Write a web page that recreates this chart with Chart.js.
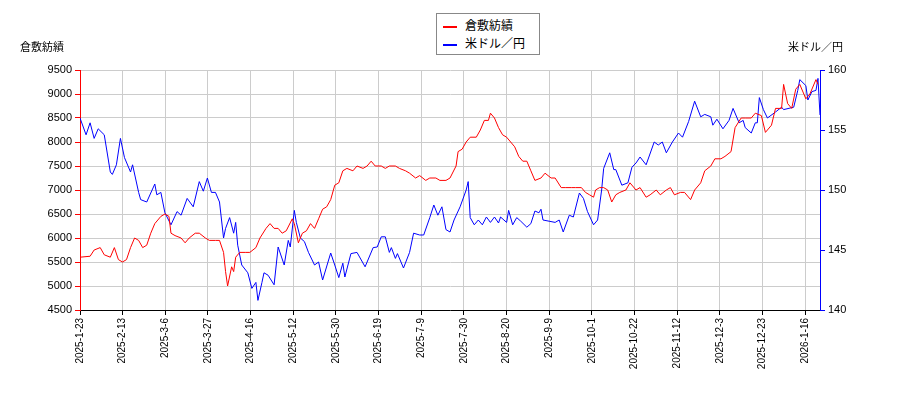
<!DOCTYPE html>
<html>
<head>
<meta charset="utf-8">
<script src="https://cdn.jsdelivr.net/npm/chart.js@4/dist/chart.umd.min.js"></script>
<style>
  body { margin: 0; background: #fff; font-family: "Noto Sans CJK JP", sans-serif; }
  #wrap { position: relative; width: 900px; height: 400px; }
  .lbl { position: absolute; font-size: 11px; color: #000; }
  #legend { position: absolute; left: 436px; top: 13px; width: 104px; border: 1px solid #888; background: #fff; font-size: 12px; padding: 2px 0 2px 6px; box-sizing: border-box; }
  #legend div { height: 18px; line-height: 18px; }
  #legend span { display: inline-block; width: 14px; height: 2px; vertical-align: middle; margin-right: 8px; }
</style>
</head>
<body>
<div id="wrap">
  <canvas id="c" width="900" height="400"></canvas>
  <div class="lbl" style="left:20px;top:38px">倉敷紡績</div>
  <div class="lbl" style="left:788px;top:38px">米ドル／円</div>
  <div id="legend">
    <div><span style="background:#f00"></span>倉敷紡績</div>
    <div><span style="background:#00f"></span>米ドル／円</div>
  </div>
</div>
<script>
// x position in trading-time units (0 = 2025-1-23)
const redDays = [0,5,7,10,12,15,17,19,21,23,25,27,29,31,33,35,37,40,42,44,45,47,50,52,54,57,59,62,64,67,69,71,72,73,75,76,77,79,82,84,87,89,92,94,96,98,100,102,105,106,108,110,112,114,116,118,120,122,124,126,128,130,132,135,137,140,142,144,146,149,151,153,156,158,161,163,166,168,171,173,176,178,181,183,186,187,189,191,193,196,198,200,202,203,205,207,209,211,213,215,217,219,221,223,225,228,230,233,235,238,240,243,245,248,250,252,254,255,257,259,261,263,265,267,270,272,275,277,280,282,285,287,290,292,294,297,299,302,304,307,309,312,314,317,319,322,324,327,329,332,334,337,339,342,344,347,348,350,352,354,356,359,361,364,365];
const redValues = [5600,5620,5750,5800,5650,5600,5800,5550,5500,5550,5800,6000,5950,5800,5850,6100,6300,6450,6500,6450,6100,6050,6000,5900,6000,6100,6100,6000,5950,5950,5950,5700,5300,5000,5400,5300,5600,5700,5700,5700,5800,6000,6200,6300,6200,6200,6100,6150,6400,6300,5900,6100,6150,6300,6200,6400,6600,6650,6800,7100,7150,7400,7450,7400,7500,7450,7500,7600,7500,7500,7450,7500,7500,7450,7400,7350,7250,7300,7200,7250,7250,7200,7200,7250,7500,7800,7850,8000,8100,8100,8250,8450,8450,8600,8500,8300,8150,8100,8000,7900,7700,7600,7600,7400,7200,7250,7350,7250,7250,7050,7050,7050,7050,7050,6950,6900,6850,7000,7050,7050,7000,6750,6900,6950,7000,7150,7000,7050,6850,6900,7000,6900,7000,7050,6900,6950,6950,6800,7000,7150,7400,7500,7650,7650,7700,7800,8300,8500,8500,8500,8600,8550,8200,8350,8700,8700,9200,8800,8700,9100,9200,8900,9000,9300,9200];
const blueDays = [0,3,5,7,9,12,15,16,18,20,22,25,26,29,30,33,37,38,40,42,45,48,50,53,56,59,61,63,65,67,69,71,72,74,76,77,78,80,83,85,87,88,90,91,93,96,98,101,103,104,106,107,109,111,113,116,118,120,124,126,128,130,131,134,137,141,145,147,149,151,153,154,156,157,160,163,165,168,170,173,175,177,179,181,183,185,188,191,192,193,195,197,199,201,203,205,207,208,211,212,214,216,218,221,223,225,227,228,229,232,235,237,239,242,244,247,249,251,254,256,258,259,262,264,265,268,271,273,275,277,280,284,286,288,290,293,296,298,301,304,307,309,312,313,315,318,321,323,326,328,329,332,334,335,336,338,340,344,347,348,353,355,356,359,360,362,364,365,366];
const blueValues = [156.0,154.6,155.6,154.3,155.1,154.6,151.5,151.3,152.1,154.3,152.7,151.5,152.1,149.8,149.2,149.0,150.5,149.6,149.8,148.1,147.1,148.2,147.9,149.3,148.6,150.7,149.9,151.0,149.8,149.8,149.0,146.0,146.8,147.7,146.4,147.3,145.4,143.75,143.1,141.8,142.3,140.8,142.3,143.1,142.9,142.1,145.25,143.75,145.8,145.25,148.3,147.3,146.0,145.7,144.8,143.75,144.0,142.5,144.75,143.75,142.7,143.9,142.75,144.7,144.8,143.6,145.2,145.25,146.1,146.1,144.8,145.2,144.3,144.7,143.5,144.8,146.4,146.25,146.25,147.7,148.75,147.9,148.6,146.7,146.5,147.5,148.6,150.0,150.7,147.7,147.1,147.5,147.1,147.75,147.3,147.75,147.25,147.75,147.3,148.3,147.1,147.7,147.4,146.9,147.2,148.25,148.1,148.4,147.5,147.4,147.3,147.5,146.5,147.9,147.75,149.75,149.3,148.2,147.1,147.5,150.0,151.8,153.1,151.7,151.7,150.4,150.6,151.9,152.25,152.75,152.1,154.0,153.75,154.0,153.1,154.0,154.75,154.4,155.7,157.4,156.1,156.3,156.1,155.4,155.9,155.1,155.8,156.8,155.6,155.8,155.2,154.75,155.6,155.6,157.7,156.7,156.0,156.5,156.9,156.7,156.9,158.3,159.2,158.7,157.5,158.2,158.3,159.3,156.25];

const tickLabels = ['2025-1-23','2025-2-13','2025-3-6','2025-3-27','2025-4-16','2025-5-12','2025-5-30','2025-6-19','2025-7-9','2025-7-30','2025-8-20','2025-9-9','2025-10-1','2025-10-22','2025-11-12','2025-12-3','2025-12-23','2026-1-16'];
const tickStep = 21.1;

new Chart(document.getElementById('c'), {
  type: 'line',
  data: {
    datasets: [
      { label: '倉敷紡績', data: redDays.map((d, i) => ({ x: d, y: redValues[i] })), borderColor: '#f00', borderWidth: 1, pointRadius: 0, yAxisID: 'y' },
      { label: '米ドル／円', data: blueDays.map((d, i) => ({ x: d, y: blueValues[i] })), borderColor: '#00f', borderWidth: 1, pointRadius: 0, yAxisID: 'y1' }
    ]
  },
  options: {
    responsive: false,
    animation: false,
    layout: { padding: { top: 70, bottom: 0, left: 0, right: 0 } },
    plugins: { legend: { display: false }, tooltip: { enabled: false } },
    scales: {
      x: {
        type: 'linear', min: 0, max: 366,
        afterBuildTicks: a => { a.ticks = tickLabels.map((l, i) => ({ value: i * tickStep })); },
        ticks: { autoSkip: false, maxRotation: 90, minRotation: 90, color: '#000', font: { size: 10 },
          callback: (v, i) => tickLabels[i] },
        grid: { color: '#ccc', tickColor: '#000', tickLength: 5 },
        border: { color: '#000' },
        afterFit: a => { a.height = 90; }
      },
      y: {
        position: 'left', min: 4500, max: 9500,
        ticks: { stepSize: 500, color: '#000', font: { size: 11 }, callback: v => String(v) },
        grid: { color: '#ccc', tickColor: '#f00', tickLength: 5 },
        border: { color: '#f00' },
        afterFit: a => { a.width = 80; }
      },
      y1: {
        position: 'right', min: 140, max: 160,
        ticks: { stepSize: 5, color: '#000', font: { size: 11 } },
        grid: { drawOnChartArea: false, tickColor: '#00f', tickLength: 5 },
        border: { color: '#00f' },
        afterFit: a => { a.width = 80; }
      }
    }
  }
});
</script>
</body>
</html>
